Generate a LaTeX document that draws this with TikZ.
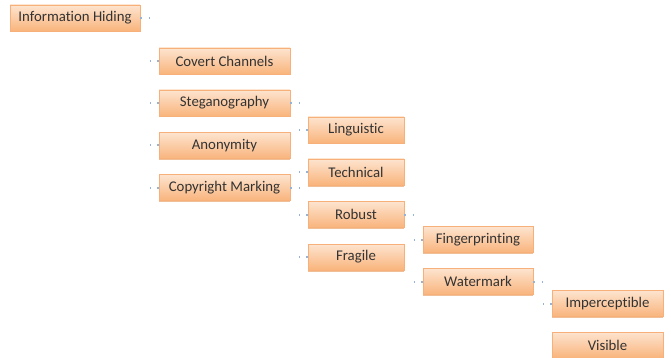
\documentclass[tikz,border=0pt]{standalone}
\usepackage{fontspec}
\setmainfont{Carlito}[Ligatures=NoCommon]
\usepackage{xcolor}
\usetikzlibrary{shadows}

\definecolor{boxtop}{HTML}{FDE4CF}
\definecolor{boxbot}{HTML}{F9B47C}
\definecolor{boxline}{HTML}{F8B07A}
\definecolor{boxtext}{HTML}{333333}
\definecolor{stubblue}{HTML}{95B3D7}

\tikzset{
  box/.style={draw=boxline, line width=0.8pt, top color=boxtop, bottom color=boxbot,
    minimum height=26, inner sep=0pt, text=boxtext,
    font=\fontsize{14.8}{16}\selectfont,
    drop shadow={shadow xshift=0pt, shadow yshift=-1.5pt, fill=boxline!75!brown, opacity=0.7}},
  stub/.style={stubblue, line width=2pt, dash pattern=on 2pt off 6.5pt}
}

\begin{document}
\begin{tikzpicture}[x=1pt,y=-1pt]
\useasboundingbox (0,0) rectangle (671,358);

\node[box, minimum width=130] at (75, 18) (ih) {Information Hiding};

\node[box, minimum width=131] at (224.5, 61) (cc) {Covert Channels};
\node[box, minimum width=131] at (224.5, 103) (sg) {Steganography};
\node[box, minimum width=131] at (224.5, 145.5) (an) {Anonymity};
\node[box, minimum width=131] at (224.5, 187.5) (cm) {Copyright Marking};

\node[box, minimum width=96] at (356, 130) (li) {Linguistic};
\node[box, minimum width=96] at (356, 172) (te) {Technical};
\node[box, minimum width=96] at (356, 214.5) (ro) {Robust};
\node[box, minimum width=96] at (356, 257) (fr) {Fragile};

\node[box, minimum width=110] at (478, 239.5) (fi) {Fingerprinting};
\node[box, minimum width=110] at (478, 281.5) (wa) {Watermark};

\node[box, minimum width=111] at (607.5, 303.5) (im) {Imperceptible};
\node[box, minimum width=111] at (607.5, 345) (vi) {Visible};

\foreach \n in {cc,sg,an,cm,li,te,ro,fr,fi,wa,im}
  \draw[stub] (\n.west) -- ++(-9,0);
\foreach \n in {ih,sg,cm,ro,wa}
  \draw[stub] (\n.east) -- ++(9,0);
\end{tikzpicture}
\end{document}
